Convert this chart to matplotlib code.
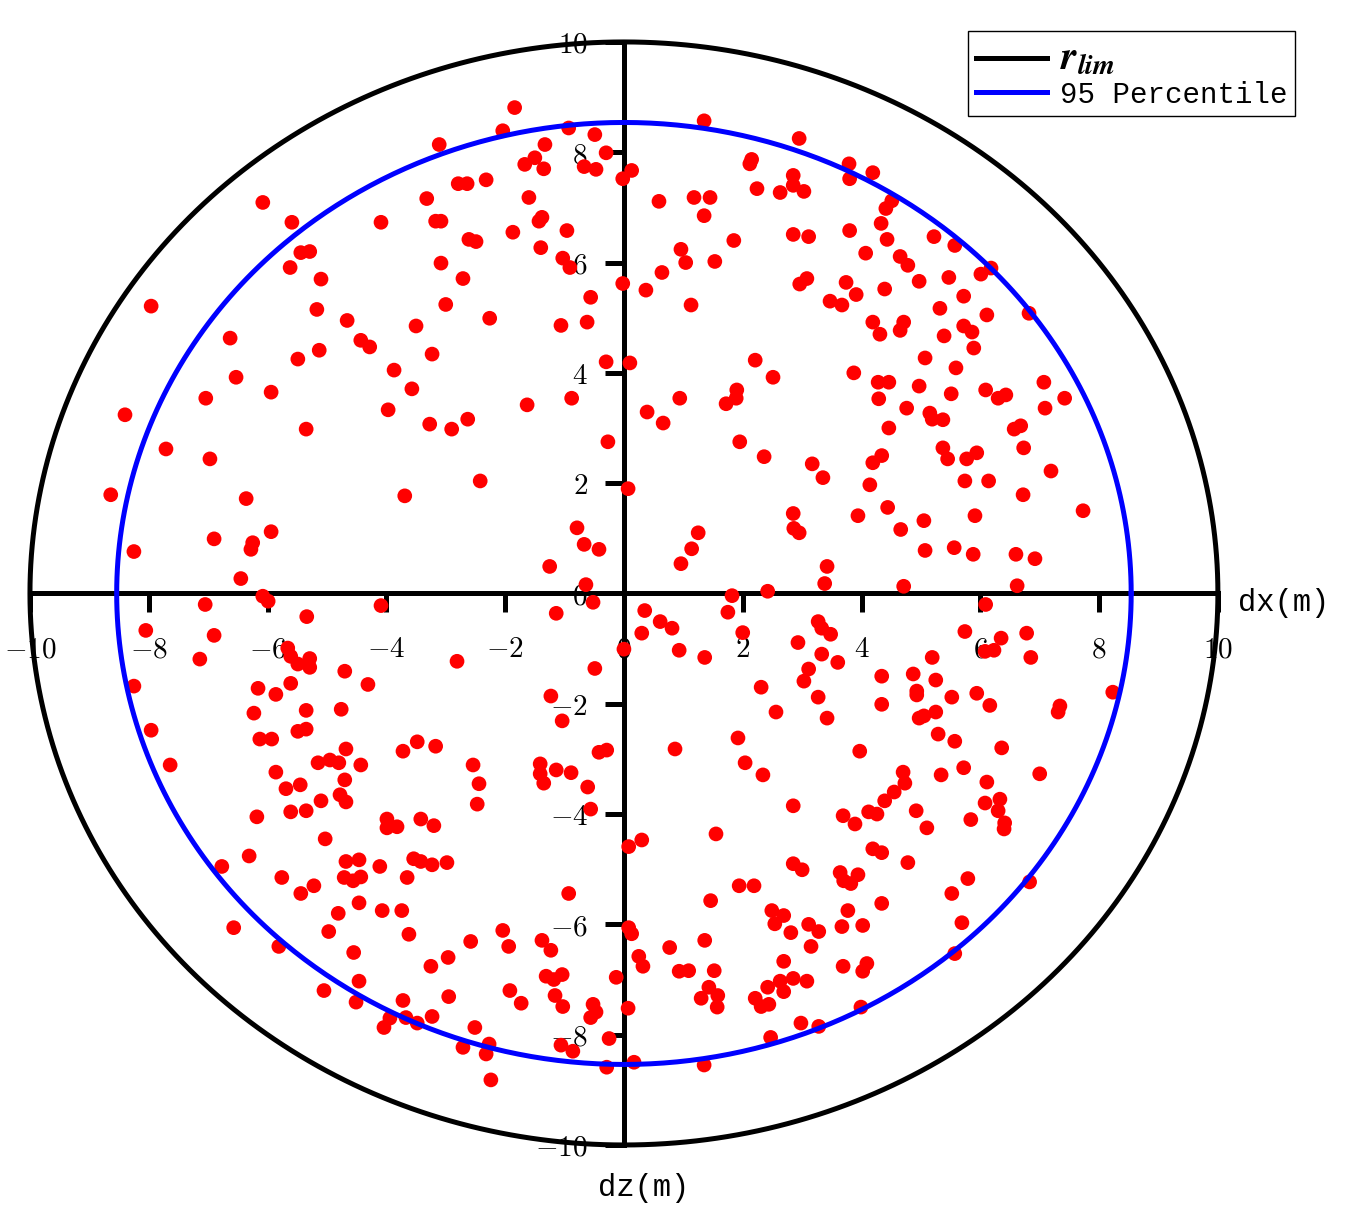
import numpy as np
import matplotlib.pyplot as plt

plt.rcParams['mathtext.fontset'] = 'cm'

# radii of the two reference circles
r_lim = 10
r_95 = 8.54

# (dx, dz) deviations, grouped by region
upper_left_outer = [(-6.08, 7.09), (-5.59, 6.73), (-5.44, 6.18), (-5.29, 6.20), (-5.62, 5.91), (-5.10, 5.70),
                    (-7.96, 5.21), (-5.17, 5.15), (-4.66, 4.95), (-4.43, 4.59), (-6.63, 4.63), (-5.13, 4.41),
                    (-5.49, 4.25), (-6.53, 3.92), (-5.94, 3.65), (-7.04, 3.54), (-8.40, 3.24), (-5.35, 2.98)]
upper_left_inner = [(-1.84, 8.81), (-2.04, 8.39), (-3.11, 8.14), (-0.93, 8.44), (-0.49, 8.32), (-1.33, 8.14),
                    (-0.30, 7.99), (-1.50, 7.90), (-1.67, 7.78), (-1.35, 7.70), (-0.67, 7.74), (-0.47, 7.69),
                    (-2.79, 7.43), (-2.64, 7.43), (-2.32, 7.50), (-3.32, 7.16), (-1.60, 7.18), (-4.09, 6.73),
                    (-3.17, 6.75), (-3.08, 6.75), (-1.38, 6.82), (-1.43, 6.75), (-1.87, 6.55), (-0.96, 6.58),
                    (-2.61, 6.42), (-2.49, 6.38), (-1.40, 6.27), (-1.03, 6.08), (-0.91, 5.91), (-3.08, 5.99),
                    (-2.71, 5.71), (-0.56, 5.37), (-3.00, 5.24), (-2.26, 4.99), (-3.50, 4.85), (-1.06, 4.86),
                    (-0.62, 4.92), (-4.28, 4.47), (-3.23, 4.34), (-0.30, 4.20), (-3.87, 4.05), (-3.57, 3.71),
                    (-0.88, 3.54), (-1.63, 3.42), (-3.97, 3.33), (-3.27, 3.07), (-2.63, 3.16), (-2.90, 2.98)]
upper_right_inner = [(1.35, 8.57), (2.95, 8.25), (0.13, 7.67), (-0.02, 7.52), (2.15, 7.87), (2.12, 7.79),
                     (2.85, 7.58), (2.85, 7.40), (2.63, 7.27), (3.03, 7.29), (3.79, 7.79), (3.80, 7.52),
                     (4.19, 7.63), (2.24, 7.34), (0.59, 7.11), (1.18, 7.18), (1.45, 7.18), (1.35, 6.85),
                     (1.85, 6.40), (2.85, 6.51), (3.11, 6.47), (3.80, 6.58), (4.07, 6.17), (0.96, 6.24),
                     (1.04, 6.00), (1.53, 6.02), (0.64, 5.82), (-0.02, 5.62), (0.37, 5.50), (1.13, 5.23),
                     (2.96, 5.61), (3.08, 5.71), (3.74, 5.64), (3.91, 5.42), (3.47, 5.30), (3.67, 5.23),
                     (4.19, 4.92), (0.10, 4.18), (2.21, 4.23), (2.51, 3.92), (3.87, 4.00), (0.94, 3.54),
                     (0.39, 3.29), (0.66, 3.09), (1.90, 3.69), (1.89, 3.54), (1.72, 3.44)]
upper_right_outer = [(4.51, 7.12), (4.41, 6.98), (4.33, 6.71), (4.43, 6.42), (5.22, 6.47), (5.57, 6.31),
                     (4.65, 6.11), (4.78, 5.95), (4.97, 5.66), (4.39, 5.52), (5.47, 5.73), (6.01, 5.79),
                     (6.18, 5.90), (5.72, 5.39), (5.32, 5.17), (6.11, 5.05), (6.82, 5.08), (4.71, 4.92),
                     (4.65, 4.77), (4.31, 4.70), (5.39, 4.67), (5.72, 4.85), (5.86, 4.74), (5.89, 4.45),
                     (5.07, 4.27), (5.59, 4.09), (4.28, 3.83), (4.46, 3.83), (4.97, 3.76), (4.29, 3.53),
                     (5.51, 3.62), (6.09, 3.69), (6.30, 3.54), (6.43, 3.60), (7.07, 3.83), (7.09, 3.36),
                     (7.42, 3.54), (4.76, 3.36), (5.15, 3.27), (5.19, 3.16), (5.37, 3.15), (4.46, 3.00),
                     (6.68, 3.04), (6.57, 2.98)]
mid_left = [(-7.71, 2.62), (-6.97, 2.44), (-8.64, 1.79), (-6.36, 1.72), (-5.94, 1.12), (-6.90, 0.99),
            (-6.25, 0.92), (-6.28, 0.80), (-8.25, 0.76), (-6.45, 0.27), (-6.08, -0.05), (-5.99, -0.14),
            (-7.05, -0.20), (-5.34, -0.42), (-8.05, -0.67), (-6.90, -0.76), (-7.14, -1.19), (-5.66, -0.99),
            (-5.61, -1.14), (-5.49, -1.28), (-5.29, -1.18), (-5.29, -1.34), (-4.70, -1.41), (-8.25, -1.68),
            (-6.16, -1.72), (-5.86, -1.83), (-5.61, -1.63), (-6.23, -2.17), (-5.35, -2.12), (-4.76, -2.10),
            (-7.96, -2.48), (-6.13, -2.64), (-5.93, -2.64), (-5.49, -2.50), (-5.35, -2.46), (-4.68, -2.82),
            (-7.64, -3.11), (-5.15, -3.07), (-4.95, -3.02), (-4.80, -3.07)]
mid_center_left = [(-0.27, 2.75), (-2.42, 2.04), (-3.69, 1.77), (-0.79, 1.19), (-0.67, 0.89), (-0.42, 0.80),
                   (-1.25, 0.49), (-0.64, 0.16), (-0.52, -0.16), (-4.09, -0.22), (-1.14, -0.36), (-2.81, -1.23),
                   (-0.49, -1.36), (-4.31, -1.65), (-1.23, -1.86), (-1.04, -2.31), (-3.48, -2.69), (-3.72, -2.86),
                   (-3.17, -2.77), (-1.41, -3.09), (-0.42, -2.88), (-0.29, -2.84), (-4.43, -3.11), (-2.54, -3.11)]
mid_center_right = [(1.95, 2.75), (2.36, 2.48), (3.17, 2.35), (3.35, 2.10), (4.19, 2.37), (4.14, 1.97),
                    (0.07, 1.90), (2.85, 1.45), (2.86, 1.18), (2.95, 1.10), (3.94, 1.41), (1.25, 1.10),
                    (1.14, 0.81), (0.96, 0.54), (3.42, 0.49), (3.38, 0.18), (1.82, -0.04), (2.42, 0.04),
                    (0.35, -0.31), (1.75, -0.34), (0.61, -0.51), (0.81, -0.63), (0.30, -0.72), (2.00, -0.71),
                    (3.27, -0.51), (3.33, -0.63), (3.48, -0.74), (0.00, -1.01), (0.93, -1.03), (1.36, -1.16),
                    (2.93, -0.89), (3.33, -1.10), (3.60, -1.25), (3.11, -1.37), (3.03, -1.59), (2.31, -1.70),
                    (3.27, -1.88), (2.56, -2.15), (3.42, -2.26), (1.92, -2.62), (0.86, -2.82), (3.97, -2.86),
                    (2.04, -3.07)]
mid_right = [(5.37, 2.64), (5.45, 2.44), (4.34, 2.50), (5.77, 2.44), (5.94, 2.55), (6.73, 2.64),
             (7.19, 2.22), (5.74, 2.04), (6.14, 2.04), (6.72, 1.79), (4.44, 1.56), (5.05, 1.32),
             (5.91, 1.41), (7.73, 1.50), (4.66, 1.16), (5.07, 0.78), (5.56, 0.83), (5.88, 0.71),
             (6.60, 0.71), (6.92, 0.63), (4.71, 0.13), (6.62, 0.14), (6.09, -0.20), (5.74, -0.69),
             (6.35, -0.81), (6.78, -0.72), (6.08, -1.05), (6.23, -1.03), (6.85, -1.16), (5.19, -1.16),
             (4.34, -1.50), (4.87, -1.46), (5.25, -1.57), (4.93, -1.77), (4.93, -1.84), (5.52, -1.88),
             (5.94, -1.81), (6.16, -2.03), (4.34, -2.01), (7.34, -2.04), (7.31, -2.15), (8.23, -1.79),
             (4.97, -2.26), (5.05, -2.22), (5.25, -2.15), (5.29, -2.55), (5.57, -2.68), (6.36, -2.80)]
lower_left_outer = [(-5.86, -3.24), (-5.69, -3.54), (-5.45, -3.47), (-4.70, -3.38), (-4.78, -3.65), (-4.68, -3.78),
                    (-5.10, -3.76), (-6.18, -4.05), (-5.61, -3.96), (-5.35, -3.94), (-5.03, -4.45), (-6.31, -4.76),
                    (-6.77, -4.95), (-4.68, -4.86), (-4.46, -4.83), (-5.76, -5.15), (-5.22, -5.30), (-5.44, -5.44),
                    (-4.71, -5.15), (-4.56, -5.21), (-4.43, -5.14), (-4.46, -5.61), (-4.81, -5.80), (-6.57, -6.06),
                    (-4.97, -6.13), (-5.81, -6.40), (-4.55, -6.51), (-4.46, -7.03), (-5.05, -7.20), (-4.51, -7.41)]
lower_left_inner = [(-2.44, -3.45), (-2.47, -3.82), (-1.41, -3.27), (-1.35, -3.44), (-1.14, -3.20), (-0.89, -3.25),
                    (-0.61, -3.51), (-0.56, -3.91), (-3.99, -4.09), (-3.99, -4.25), (-3.82, -4.23), (-3.42, -4.09),
                    (-3.20, -4.21), (-4.11, -4.95), (-3.54, -4.81), (-3.42, -4.86), (-3.23, -4.92), (-2.98, -4.88),
                    (-3.65, -5.15), (-4.07, -5.75), (-3.74, -5.75), (-0.93, -5.44), (-3.62, -6.18), (-2.04, -6.11),
                    (-1.94, -6.40), (-2.58, -6.31), (-1.38, -6.29), (-1.23, -6.47), (-2.96, -6.60), (-3.25, -6.76),
                    (-1.31, -6.94), (-1.18, -7.00), (-1.04, -6.91), (-1.16, -7.29), (-1.03, -7.49), (-1.92, -7.20),
                    (-1.73, -7.43), (-2.95, -7.31), (-3.72, -7.38), (-3.94, -7.70), (-4.04, -7.87), (-3.67, -7.69),
                    (-3.48, -7.79), (-3.23, -7.67), (-2.51, -7.87), (-0.52, -7.45), (-0.47, -7.59), (-0.56, -7.69),
                    (-0.13, -6.96), (-2.71, -8.23), (-2.27, -8.17), (-2.32, -8.35), (-1.06, -8.19), (-0.86, -8.30),
                    (-0.25, -8.07), (-0.29, -8.59), (-2.24, -8.82)]
lower_right_inner = [(2.34, -3.29), (2.85, -3.85), (3.69, -4.03), (3.89, -4.18), (4.12, -3.96), (4.19, -4.63),
                     (0.08, -4.59), (0.30, -4.47), (1.55, -4.36), (2.85, -4.90), (3.00, -5.01), (3.64, -5.06),
                     (3.70, -5.21), (3.82, -5.26), (3.94, -5.10), (1.94, -5.30), (2.19, -5.30), (1.46, -5.57),
                     (2.49, -5.75), (2.69, -5.84), (2.54, -5.99), (2.81, -6.15), (3.11, -6.00), (3.28, -6.13),
                     (3.77, -5.75), (3.67, -6.04), (4.02, -6.02), (0.08, -6.06), (0.13, -6.17), (1.36, -6.29),
                     (0.77, -6.42), (3.15, -6.40), (0.25, -6.58), (0.32, -6.76), (0.93, -6.85), (1.09, -6.84),
                     (1.52, -6.84), (2.69, -6.67), (3.69, -6.76), (4.02, -6.85), (4.09, -6.71), (1.30, -7.34),
                     (1.43, -7.14), (1.58, -7.29), (1.57, -7.50), (2.42, -7.14), (2.63, -7.03), (2.69, -7.22),
                     (2.85, -6.98), (3.08, -7.03), (2.21, -7.34), (2.31, -7.49), (2.44, -7.45), (0.07, -7.52),
                     (3.99, -7.50), (2.98, -7.79), (3.28, -7.85), (2.47, -8.05), (0.17, -8.50), (1.35, -8.55)]
lower_right_outer = [(4.70, -3.24), (4.73, -3.44), (5.34, -3.29), (5.72, -3.16), (6.11, -3.42), (7.00, -3.27),
                     (4.55, -3.60), (4.39, -3.76), (4.26, -4.00), (4.92, -3.94), (5.10, -4.25), (5.84, -4.10),
                     (6.08, -3.80), (6.33, -3.73), (6.30, -3.94), (6.41, -4.16), (6.40, -4.27), (4.34, -4.70),
                     (4.78, -4.88), (5.79, -5.17), (5.52, -5.44), (6.83, -5.23), (4.34, -5.62), (5.69, -5.97),
                     (5.57, -6.53)]

regions = [upper_left_outer, upper_left_inner, upper_right_inner, upper_right_outer,
           mid_left, mid_center_left, mid_center_right, mid_right,
           lower_left_outer, lower_left_inner, lower_right_inner, lower_right_outer]
pts = np.array([p for reg in regions for p in reg])

tick_values = [-10, -8, -6, -4, -2, 0, 2, 4, 6, 8, 10]

fig = plt.figure(figsize=(13.62, 12.23), dpi=100)
ax = fig.add_axes([0.0220, 0.0638, 0.8722, 0.9019])

ax.scatter(pts[:, 0], pts[:, 1], s=112, c='red', edgecolors='none', zorder=3)

theta = np.linspace(0, 2 * np.pi, 721)
ax.plot(r_lim * np.cos(theta), r_lim * np.sin(theta), color='black', lw=3.6,
        zorder=4, clip_on=False, label=r'$r_{lim}$')
ax.plot(r_95 * np.cos(theta), r_95 * np.sin(theta), color='blue', lw=3.6,
        zorder=4, clip_on=False, label='95 Percentile')

ax.set_xlim(-10, 10)
ax.set_ylim(-10, 10)

# axes crossing at the origin
ax.spines['left'].set_position(('data', 0))
ax.spines['bottom'].set_position(('data', 0))
ax.spines['top'].set_visible(False)
ax.spines['right'].set_visible(False)
for s in ['left', 'bottom']:
    ax.spines[s].set_linewidth(3.6)

ax.set_xticks(tick_values)
ax.set_yticks(tick_values)
ax.set_xticklabels(['$%d$' % v for v in tick_values])
ax.set_yticklabels(['$%d$' % v for v in tick_values])
ax.tick_params(axis='both', direction='out', length=14, width=3.6, labelsize=21)
ax.tick_params(axis='x', pad=16)
ax.tick_params(axis='y', pad=12)

ax.annotate('dx(m)', xy=(10, 0), xytext=(20, -10), textcoords='offset pixels',
            ha='left', va='center', fontsize=22, family='Liberation Mono')
ax.annotate('dz(m)', xy=(0, -10), xytext=(20, -43), textcoords='offset pixels',
            ha='center', va='center', fontsize=22, family='Liberation Mono')

leg = ax.legend(loc='upper right', bbox_to_anchor=(1295 / 1362, 1 - 31 / 1223),
                bbox_transform=fig.transFigure, borderaxespad=0,
                prop={'family': 'Liberation Mono', 'size': 21},
                handlelength=2.45, handletextpad=0.45, labelspacing=0.15,
                borderpad=0.25, fancybox=False, framealpha=1)
leg.get_frame().set_edgecolor('black')
leg.get_frame().set_linewidth(1.0)

# bold italic r_lim in the legend
lab = leg.get_texts()[0]
lab.set_math_fontfamily('stix')
lab.set_fontsize(29)
try:
    lab.set_text(r'$\mathbfit{r_{lim}}$')
    fig.canvas.draw()
except Exception:
    lab.set_text(r'$\mathbf{r_{lim}}$')

plt.savefig('out.png', dpi=100)
